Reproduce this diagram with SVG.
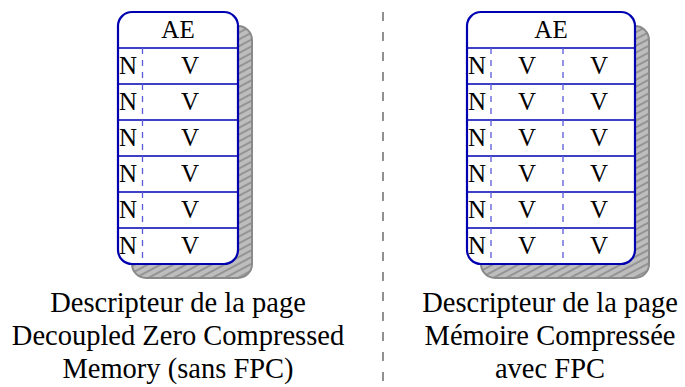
<svg xmlns="http://www.w3.org/2000/svg" width="685" height="387" viewBox="0 0 685 387">
<style>
text{font-family:"Liberation Serif","Times New Roman",serif;fill:#000}
.cell{font-size:25px;text-anchor:middle}
.nl{font-size:25px;text-anchor:start}
.cap{font-size:28.5px;text-anchor:middle}
.shadow{fill:url(#hatch);stroke:#8a8a8a;stroke-width:2}
.box{fill:#fff;stroke:#0000b0;stroke-width:2.2}
.row{stroke:#0000b0;stroke-width:1.3}
.dash{stroke:#5a5ad8;stroke-width:1.3;stroke-dasharray:6 6}
.div{stroke:#555;stroke-width:1.3;stroke-dasharray:9 11}
</style>
<defs>
<pattern id="hatch" patternUnits="userSpaceOnUse" width="10" height="6" patternTransform="rotate(-28)">
<rect width="10" height="6" fill="#bdbdbd"/>
<line x1="0" y1="3" x2="10" y2="3" stroke="#8a8a8a" stroke-width="1.6"/>
</pattern>
</defs>
<g id="connectors">
<line class="div" x1="383" y1="12" x2="383" y2="387"/>
</g>
<g id="left-node">
<rect class="shadow" x="132" y="26" width="120" height="252" rx="14"/>
<rect class="box" x="118" y="12" width="120" height="252" rx="14"/>
<line class="row" x1="118" y1="48" x2="238" y2="48"/>
<line class="row" x1="118" y1="84" x2="238" y2="84"/>
<line class="row" x1="118" y1="120" x2="238" y2="120"/>
<line class="row" x1="118" y1="156" x2="238" y2="156"/>
<line class="row" x1="118" y1="192" x2="238" y2="192"/>
<line class="row" x1="118" y1="228" x2="238" y2="228"/>
<line class="dash" x1="142.5" y1="48" x2="142.5" y2="263"/>
<text class="cell" x="178" y="38">AE</text>
<text class="nl" x="119" y="74">N</text><text class="cell" x="190" y="74">V</text>
<text class="nl" x="119" y="110">N</text><text class="cell" x="190" y="110">V</text>
<text class="nl" x="119" y="146">N</text><text class="cell" x="190" y="146">V</text>
<text class="nl" x="119" y="182">N</text><text class="cell" x="190" y="182">V</text>
<text class="nl" x="119" y="218">N</text><text class="cell" x="190" y="218">V</text>
<text class="nl" x="119" y="254">N</text><text class="cell" x="190" y="254">V</text>
</g>
<g id="right-node">
<rect class="shadow" x="481" y="26" width="168" height="252" rx="14"/>
<rect class="box" x="467" y="12" width="168" height="252" rx="14"/>
<line class="row" x1="467" y1="48" x2="635" y2="48"/>
<line class="row" x1="467" y1="84" x2="635" y2="84"/>
<line class="row" x1="467" y1="120" x2="635" y2="120"/>
<line class="row" x1="467" y1="156" x2="635" y2="156"/>
<line class="row" x1="467" y1="192" x2="635" y2="192"/>
<line class="row" x1="467" y1="228" x2="635" y2="228"/>
<line class="dash" x1="491" y1="48" x2="491" y2="263"/>
<line class="dash" x1="563" y1="48" x2="563" y2="263"/>
<text class="cell" x="551" y="38">AE</text>
<text class="nl" x="468" y="74">N</text><text class="cell" x="527" y="74">V</text><text class="cell" x="599" y="74">V</text>
<text class="nl" x="468" y="110">N</text><text class="cell" x="527" y="110">V</text><text class="cell" x="599" y="110">V</text>
<text class="nl" x="468" y="146">N</text><text class="cell" x="527" y="146">V</text><text class="cell" x="599" y="146">V</text>
<text class="nl" x="468" y="182">N</text><text class="cell" x="527" y="182">V</text><text class="cell" x="599" y="182">V</text>
<text class="nl" x="468" y="218">N</text><text class="cell" x="527" y="218">V</text><text class="cell" x="599" y="218">V</text>
<text class="nl" x="468" y="254">N</text><text class="cell" x="527" y="254">V</text><text class="cell" x="599" y="254">V</text>
</g>
<g id="left-caption">
<text class="cap" x="178" y="312">Descripteur de la page</text>
<text class="cap" x="178" y="345">Decoupled Zero Compressed</text>
<text class="cap" x="178" y="378">Memory (sans FPC)</text>
</g>
<g id="right-caption">
<text class="cap" x="550" y="312">Descripteur de la page</text>
<text class="cap" x="550" y="345">Mémoire Compressée</text>
<text class="cap" x="550" y="378">avec FPC</text>
</g>
</svg>
